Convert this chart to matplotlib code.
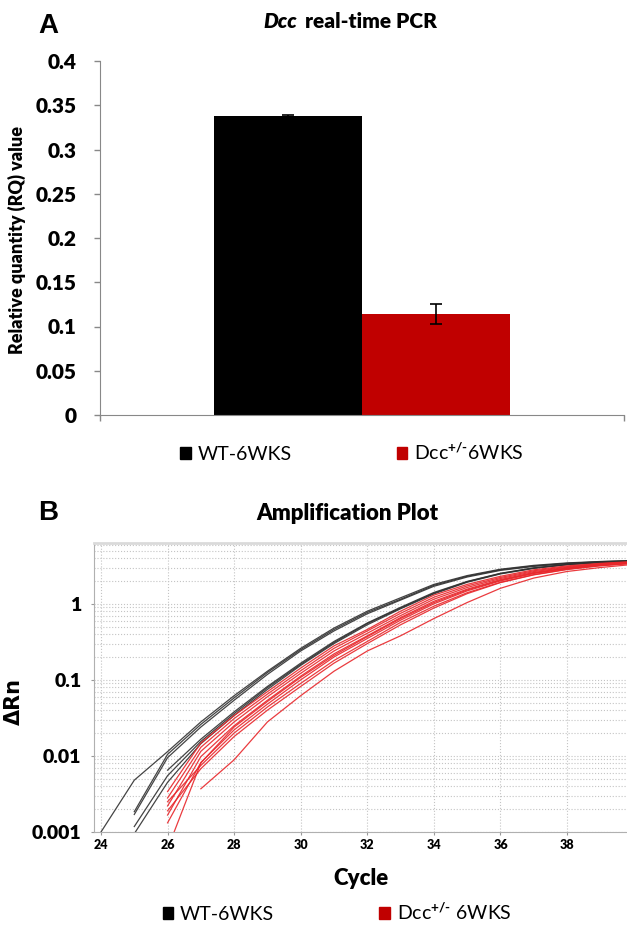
import numpy as np
import matplotlib
matplotlib.use("Agg")
import matplotlib.pyplot as plt
from matplotlib.patches import Patch
from matplotlib.ticker import LogLocator, NullFormatter

plt.rcParams['font.family'] = ['Lato', 'DejaVu Sans']
plt.rcParams['mathtext.fontset'] = 'custom'
plt.rcParams['mathtext.rm'] = 'Lato'
plt.rcParams['mathtext.bf'] = 'Lato:bold'

# --- panel A data ---
groups = ["WT-6WKS", "Dcc$^{\\mathbf{+/‐}}$6WKS"]
rq_values = [0.338, 0.114]
rq_errors = [0.001, 0.011]
bar_colors = ["#000000", "#c00000"]
rq_ticks = [0, 0.05, 0.1, 0.15, 0.2, 0.25, 0.3, 0.35, 0.4]
rq_ticklabels = ["0", "0.05", "0.1", "0.15", "0.2", "0.25", "0.3", "0.35", "0.4"]

# --- panel B data: delta Rn per cycle (24..40), nan = not drawn ---
cycles = list(range(24, 41))
nan = np.nan
wt_curves = [
    [0.001, 0.0048, 0.0114, 0.028, 0.062, 0.13, 0.26, 0.48, 0.80, 1.2, 1.8, 2.35, 2.85, 3.2, 3.45, 3.6, 3.7],
    [nan, 0.00185, 0.0105, 0.026, 0.058, 0.125, 0.25, 0.46, 0.77, 1.15, 1.75, 2.3, 2.8, 3.15, 3.4, 3.58, 3.7],
    [nan, 0.0017, 0.0095, 0.024, 0.054, 0.118, 0.24, 0.44, 0.74, 1.12, 1.7, 2.25, 2.75, 3.1, 3.38, 3.55, 3.68],
    [nan, 0.00118, 0.0055, 0.0155, 0.036, 0.079, 0.16, 0.31, 0.55, 0.88, 1.38, 1.95, 2.5, 2.95, 3.28, 3.5, 3.64],
    [nan, 0.00095, 0.0045, 0.0145, 0.034, 0.075, 0.155, 0.30, 0.53, 0.86, 1.35, 1.92, 2.47, 2.92, 3.26, 3.48, 3.62],
    [nan, nan, 0.0065, 0.0166, 0.038, 0.082, 0.166, 0.32, 0.56, 0.90, 1.41, 1.97, 2.52, 2.97, 3.3, 3.52, 3.65],
]
het_curves = [
    [nan, nan, 0.0034, 0.0148, 0.034, 0.070, 0.143, 0.28, 0.46, 0.80, 1.30, 1.80, 2.30, 2.80, 3.15, 3.40, 3.60],
    [nan, nan, 0.0028, 0.013, 0.031, 0.065, 0.132, 0.26, 0.44, 0.75, 1.22, 1.72, 2.22, 2.72, 3.08, 3.36, 3.56],
    [nan, nan, 0.0022, 0.0115, 0.028, 0.060, 0.122, 0.24, 0.41, 0.70, 1.15, 1.64, 2.15, 2.65, 3.02, 3.32, 3.54],
    [nan, nan, 0.00167, 0.0098, 0.025, 0.054, 0.112, 0.22, 0.38, 0.66, 1.08, 1.56, 2.08, 2.58, 2.96, 3.28, 3.50],
    [nan, nan, 0.00132, 0.0082, 0.022, 0.048, 0.100, 0.20, 0.35, 0.61, 1.00, 1.48, 2.00, 2.50, 2.90, 3.22, 3.46],
    [nan, nan, 0.0006, 0.0081, 0.024, 0.052, 0.108, 0.21, 0.37, 0.64, 1.04, 1.52, 2.04, 2.54, 2.93, 3.25, 3.48],
    [nan, nan, 0.0025, 0.0075, 0.020, 0.044, 0.090, 0.18, 0.32, 0.57, 0.93, 1.40, 1.92, 2.42, 2.85, 3.18, 3.42],
    [nan, nan, 0.0019, 0.0068, 0.018, 0.040, 0.082, 0.166, 0.30, 0.53, 0.88, 1.36, 1.90, 2.40, 2.82, 3.16, 3.40],
    [nan, nan, nan, 0.0037, 0.0089, 0.028, 0.062, 0.13, 0.24, 0.38, 0.64, 1.04, 1.60, 2.18, 2.66, 3.00, 3.30],
]
cycle_ticks = [24, 26, 28, 30, 32, 34, 36, 38]
rn_ticks = [0.001, 0.01, 0.1, 1]
rn_ticklabels = ["0.001", "0.01", "0.1", "1"]

fig = plt.figure(figsize=(6.27, 9.25), dpi=100)

# ---------------- panel A ----------------
axA = fig.add_axes([100/627, 1-415/925, 524/627, 354/925])
w = 0.2824
xpos = [0.5 - w/2, 0.5 + w/2]
axA.bar(xpos, rq_values, width=w, color=bar_colors, yerr=rq_errors,
        error_kw=dict(ecolor="black", capsize=4, elinewidth=1.2, capthick=1.2))
axA.set_xlim(0, 1)
axA.set_ylim(0, 0.4)
axA.set_yticks(rq_ticks)
axA.set_yticklabels(rq_ticklabels, fontsize=15, fontweight="heavy")
axA.set_xticks([0, 1])
axA.set_xticklabels([])
axA.tick_params(axis="both", direction="out", length=4, width=1, color="#888888", pad=13)
for s in ["top", "right"]:
    axA.spines[s].set_visible(False)
for s in ["left", "bottom"]:
    axA.spines[s].set_color("#888888")
axA.set_ylabel("Relative quantity (RQ) value", fontsize=13, fontweight="heavy")
axA.yaxis.set_label_coords(-74/524, 0.494)
fig.text(297/627, 1-21/925, "Dcc", ha="right", va="center", fontsize=15,
         fontweight="heavy", fontstyle="italic")
fig.text(305/627, 1-21/925, "real-time PCR", ha="left", va="center", fontsize=15,
         fontweight="heavy")
fig.text(48/627, 1-26/925, "A", ha="center", va="center", fontsize=20, fontweight="bold",
         family="Liberation Sans")
handlesA = [Patch(color=c) for c in bar_colors]
fig.legend(handlesA, groups, loc="center", bbox_to_anchor=(352/627, 1-452/925), ncol=2,
           frameon=False, fontsize=14, handlelength=0.55, handleheight=0.55,
           handletextpad=0.35, columnspacing=5.4)

# ---------------- panel B ----------------
axB = fig.add_axes([94/627, 1-832/925, 533/627, 289/925])
for ys in wt_curves:
    axB.plot(cycles, ys, color="#303030", lw=0.9, alpha=0.9)
for ys in het_curves:
    axB.plot(cycles, ys, color="#e8262a", lw=0.9, alpha=0.9)
axB.set_yscale("log")
axB.set_xlim(23.79, 39.8)
axB.set_ylim(0.001, 6.3)
axB.set_xticks(cycle_ticks)
axB.set_xticklabels([str(c) for c in cycle_ticks], fontsize=9, fontweight="heavy")
axB.set_yticks(rn_ticks)
axB.set_yticklabels(rn_ticklabels, fontsize=14, fontweight="heavy")
axB.yaxis.set_minor_locator(LogLocator(base=10, subs=range(2, 10)))
axB.yaxis.set_minor_formatter(NullFormatter())
axB.tick_params(which="minor", length=0)
axB.tick_params(which="major", length=2, color="#999999")
axB.tick_params(axis="y", which="major", pad=7)
axB.tick_params(axis="x", which="major", pad=3)
axB.grid(True, which="major", axis="both", color="#c4c4c4", ls=":", lw=0.8)
axB.grid(True, which="minor", axis="y", color="#c4c4c4", ls=":", lw=0.8)
axB.spines["right"].set_visible(False)
axB.spines["top"].set_color("#dadada")
axB.spines["top"].set_linewidth(2)
for s in ["left", "bottom"]:
    axB.spines[s].set_color("#b0b0b0")
axB.set_xlabel("Cycle", fontsize=16, fontweight="heavy", labelpad=12)
axB.set_ylabel("ΔRn", fontsize=15, fontweight="bold", family=["DejaVu Sans"])
axB.yaxis.set_label_coords(-70/533, 0.45)
fig.text(347/627, 1-513/925, "Amplification Plot", ha="center", va="center",
         fontsize=16, fontweight="heavy")
fig.text(48/627, 1-513/925, "B", ha="center", va="center", fontsize=20, fontweight="bold",
         family="Liberation Sans")
groupsB = ["WT-6WKS", "Dcc$^{\\mathbf{+/‐}}$ 6WKS"]
handlesB = [Patch(color="#000000"), Patch(color="#c00000")]
fig.legend(handlesB, groupsB, loc="center", bbox_to_anchor=(337/627, 1-912/925), ncol=2,
           frameon=False, fontsize=14, handlelength=0.55, handleheight=0.55,
           handletextpad=0.35, columnspacing=5.4)

fig.savefig("out.png", dpi=100)
